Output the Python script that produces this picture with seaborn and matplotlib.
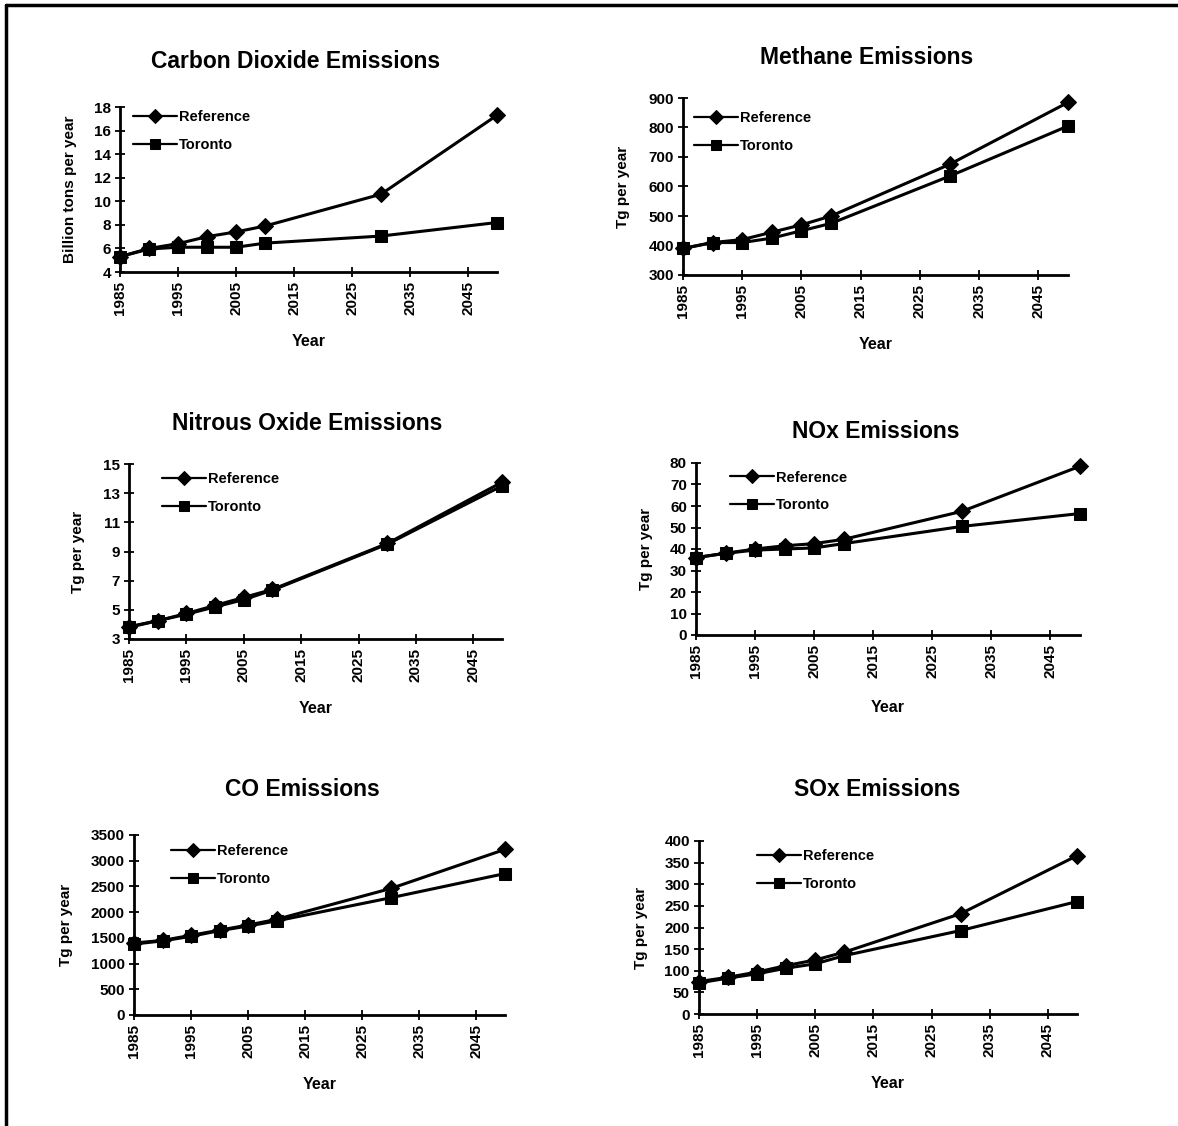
import matplotlib
matplotlib.use("Agg")
import matplotlib.pyplot as plt
import seaborn as sns
import pandas as pd

years = [1985, 1990, 1995, 2000, 2005, 2010, 2030, 2050]

co2_ref = [5.3, 6.0, 6.4, 7.0, 7.4, 7.9, 10.6, 17.3]
co2_tor = [5.3, 5.95, 6.1, 6.1, 6.1, 6.45, 7.05, 8.2]
ch4_ref = [390, 410, 420, 445, 470, 500, 675, 885]
ch4_tor = [390, 410, 410, 425, 450, 475, 635, 805]
n2o_ref = [3.85, 4.25, 4.75, 5.3, 5.85, 6.4, 9.55, 13.75]
n2o_tor = [3.8, 4.25, 4.7, 5.2, 5.7, 6.35, 9.5, 13.5]
nox_ref = [36, 38, 40, 41.5, 42.5, 44.5, 57.5, 78.5]
nox_tor = [36, 38, 39.5, 40, 40.5, 42.5, 50.5, 56.5]
co_ref = [1400, 1450, 1550, 1650, 1750, 1860, 2460, 3220]
co_tor = [1380, 1440, 1530, 1640, 1730, 1830, 2280, 2750]
sox_ref = [75, 85, 97, 112, 125, 143, 232, 366]
sox_tor = [72, 83, 93, 106, 116, 135, 193, 260]

titles = ["Carbon Dioxide Emissions", "Methane Emissions", "Nitrous Oxide Emissions",
          "NOx Emissions", "CO Emissions", "SOx Emissions"]
ylabels = ["Billion tons per year", "Tg per year", "Tg per year",
           "Tg per year", "Tg per year", "Tg per year"]
yticks = [range(4, 19, 2), range(300, 901, 100), range(3, 16, 2),
          range(0, 81, 10), range(0, 3501, 500), range(0, 401, 50)]
xticks = [1985, 1995, 2005, 2015, 2025, 2035, 2045]

series = [(co2_ref, co2_tor), (ch4_ref, ch4_tor), (n2o_ref, n2o_tor),
          (nox_ref, nox_tor), (co_ref, co_tor), (sox_ref, sox_tor)]

# layout (pixels): axes box left, top, right, bottom
boxes = [(120, 107, 497, 272), (683, 98, 1068, 275), (129, 464, 502, 639),
         (696, 463, 1080, 635), (134, 835, 505, 1015), (699, 841, 1077, 1014)]
title_pos = [(296, 62), (867, 58), (307, 424), (876, 432), (302, 789), (877, 789)]
legend_pos = [(0.034, 0.979), (0.029, 0.924), (0.088, 0.952),
              (0.089, 0.956), (0.10, 0.948), (0.153, 0.951)]
xlabelpad = [14, 13.5, 13.5, 16, 14, 14]
ylabelpad = [12, 13, 13, 12, 13, 12]

sns.set_theme(style="white")
plt.rcParams["font.family"] = ["Liberation Sans", "DejaVu Sans"]
plt.rcParams["font.weight"] = "bold"
for k in ["text.color", "axes.labelcolor", "xtick.color", "ytick.color"]:
    plt.rcParams[k] = "black"

W, H = 1178, 1126
fig = plt.figure(figsize=(W / 100, H / 100), dpi=100)

for i in range(6):
    l, t, r, b = boxes[i]
    ax = fig.add_axes([l / W, 1 - b / H, (r - l) / W, (b - t) / H])
    ref, tor = series[i]
    df = pd.DataFrame({"Year": years * 2, "val": ref + tor,
                       "Scenario": ["Reference"] * 8 + ["Toronto"] * 8})
    sns.lineplot(data=df, x="Year", y="val", hue="Scenario", style="Scenario",
                 markers={"Reference": "D", "Toronto": "s"}, dashes=False,
                 palette={"Reference": "black", "Toronto": "black"},
                 markersize=8, linewidth=2.2, markeredgecolor="black", ax=ax)
    for ln in ax.lines:
        ln.set_clip_on(False)
    yt = list(yticks[i])
    ax.set_xlim(1985, 2050)
    ax.set_ylim(yt[0], yt[-1])
    ax.set_xticks(xticks)
    ax.set_yticks(yt)
    ax.set_xticklabels([str(x) for x in xticks], rotation=90, fontsize=11, fontweight="bold")
    ax.set_yticklabels([str(y) for y in yt], fontsize=11, fontweight="bold")
    ax.tick_params(bottom=True, left=True, direction="inout", length=7, width=1.3,
                   color="black", pad=3)
    for s in ["top", "right"]:
        ax.spines[s].set_visible(False)
    for s in ["left", "bottom"]:
        ax.spines[s].set_color("black")
        ax.spines[s].set_linewidth(2)
    ax.set_xlabel("Year", fontsize=11.5, fontweight="bold", labelpad=xlabelpad[i])
    ax.set_ylabel(ylabels[i], fontsize=11, fontweight="bold", labelpad=ylabelpad[i])
    leg = ax.legend(loc="upper left", bbox_to_anchor=legend_pos[i], frameon=False,
                    fontsize=10.5, handlelength=3, handletextpad=0.15,
                    labelspacing=0.95, borderaxespad=0, borderpad=0)
    for txt in leg.get_texts():
        txt.set_fontweight("bold")
    for h in leg.legend_handles:
        h.set_linewidth(1.6)
        h.set_markersize(7)
    tx, ty = title_pos[i]
    fig.text(tx / W, 1 - ty / H, titles[i], ha="center", va="center",
             fontsize=16.5, fontweight="bold")

# page frame: top and left lines
fig.add_artist(plt.Line2D([6 / W, 1], [1 - 5 / H, 1 - 5 / H], color="black", lw=2.5,
                          transform=fig.transFigure))
fig.add_artist(plt.Line2D([6 / W, 6 / W], [0, 1 - 5 / H], color="black", lw=2.5,
                          transform=fig.transFigure))

fig.savefig("out.png", dpi=100, facecolor="white")
